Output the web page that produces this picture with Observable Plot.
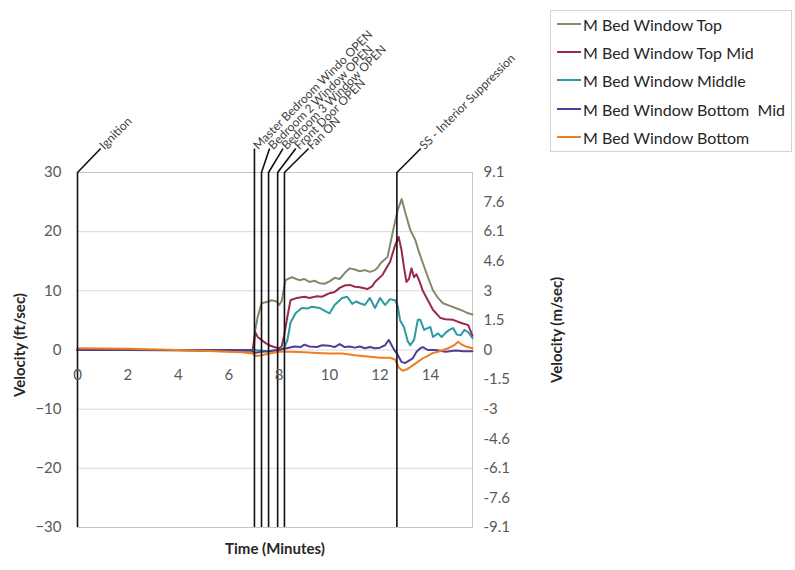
<!DOCTYPE html>
<html>
<head>
<meta charset="utf-8">
<script src="https://cdn.jsdelivr.net/npm/d3@7"></script>
<script src="https://cdn.jsdelivr.net/npm/@observablehq/plot@0.6"></script>
<style>
  html, body { margin: 0; padding: 0; background: #fff; }
  #wrap { position: relative; width: 795px; height: 570px; font-family: Lato, "Open Sans", sans-serif; }
  #legend { position: absolute; left: 550px; top: 10px; width: 242px; height: 142px; border: 1px solid #d4d4d4; box-sizing: border-box; background: #fff; }
  .item { position: absolute; left: 6px; height: 20px; display: flex; align-items: center; font-size: 16px; color: #262626; white-space: pre; }
  .item svg { margin-right: 2px; }
</style>
</head>
<body>
<div id="wrap"><div id="chart"></div><div id="legend"></div></div>
<script>
// ---- data ----
const seriesNames = ["M Bed Window Top", "M Bed Window Top Mid", "M Bed Window Middle", "M Bed Window Bottom  Mid", "M Bed Window Bottom"];
const seriesColors = ["#7f8c6c", "#982a4c", "#2b9ba2", "#503f92", "#ef7d22"];

const bedTop = [[0,0],[2,0],[4,-0.1],[6,-0.2],[6.9,-0.3],[7.0,0.5],[7.05,3.4],[7.15,5.6],[7.3,7.9],[7.5,8.1],[7.7,8.4],[7.9,8.2],[8.0,7.6],[8.1,8.3],[8.25,11.8],[8.5,12.3],[8.8,11.8],[9.0,12.0],[9.2,11.5],[9.4,11.7],[9.6,11.3],[9.8,11.2],[10.0,11.6],[10.2,12.2],[10.4,12.0],[10.6,13.0],[10.8,13.8],[11.0,13.6],[11.2,13.3],[11.4,13.5],[11.6,13.2],[11.8,13.5],[11.9,13.9],[12.05,14.8],[12.3,15.7],[12.55,20.8],[12.7,23.6],[12.86,25.5],[13.0,23.3],[13.2,20.3],[13.4,18.6],[13.55,16.5],[13.7,14.7],[13.9,12.3],[14.1,10.1],[14.3,8.8],[14.5,7.9],[14.75,7.5],[15.0,7.1],[15.25,6.7],[15.5,6.2],[15.67,6.0]];
const bedTopMid = [[0,0],[2,0],[4,0],[6,-0.1],[6.95,0],[7.0,1.5],[7.05,3.0],[7.15,2.2],[7.3,1.7],[7.45,1.2],[7.6,0.8],[7.8,0.5],[8.0,0.3],[8.1,0.6],[8.2,2.5],[8.3,5.0],[8.45,8.4],[8.7,8.8],[9.0,9.0],[9.2,8.8],[9.5,9.1],[9.7,9.0],[10.0,9.6],[10.2,9.8],[10.4,10.5],[10.6,10.9],[10.8,11.0],[11.0,10.7],[11.2,10.6],[11.5,10.3],[11.7,10.8],[11.8,11.5],[12.1,12.7],[12.4,14.9],[12.6,17.7],[12.74,19.1],[12.85,17.0],[12.95,14.0],[13.05,11.5],[13.15,12.0],[13.25,13.8],[13.35,12.3],[13.45,12.8],[13.55,11.8],[13.7,10.0],[13.9,8.4],[14.1,6.8],[14.4,5.4],[14.6,5.2],[14.9,5.1],[15.2,4.6],[15.5,4.2],[15.67,2.4]];
const bedMiddle = [[0,0],[2,0],[4,0],[6,0],[7.0,0],[7.5,-0.2],[8.0,0],[8.2,0.3],[8.33,1.7],[8.45,4.6],[8.65,6.2],[8.9,7.1],[9.1,7.0],[9.3,7.3],[9.6,7.1],[9.9,6.4],[10.0,6.2],[10.2,7.6],[10.5,8.8],[10.7,9.0],[10.9,7.8],[11.05,8.2],[11.2,7.9],[11.4,7.6],[11.6,8.8],[11.8,7.1],[12.0,8.8],[12.2,7.6],[12.4,8.6],[12.6,8.4],[12.7,7.5],[12.8,5.0],[12.95,3.9],[13.1,1.5],[13.2,0.8],[13.35,1.7],[13.5,5.1],[13.6,5.1],[13.75,3.4],[14.0,3.9],[14.1,2.2],[14.3,2.8],[14.45,2.2],[14.6,2.9],[14.75,3.4],[14.9,3.7],[15.05,2.6],[15.2,2.5],[15.35,3.4],[15.5,3.0],[15.67,2.0]];
const bedBottomMid = [[0,0],[2,0],[4,0],[6,0],[6.9,0],[7.0,-0.5],[7.3,-0.3],[7.6,-0.2],[8.0,0],[8.3,0.3],[8.6,0.6],[8.85,0.5],[9.0,0.9],[9.2,0.6],[9.5,0.5],[9.7,0.8],[10.0,0.7],[10.2,0.5],[10.4,1.0],[10.6,0.5],[10.8,0.6],[11.0,0.4],[11.2,0.6],[11.4,0.3],[11.6,0.5],[11.8,0.3],[12.0,0.4],[12.2,0.8],[12.35,1.7],[12.5,0.5],[12.6,-0.2],[12.7,-0.8],[12.85,-2.0],[13.0,-2.2],[13.15,-1.8],[13.3,-1.4],[13.45,-0.3],[13.6,0.3],[13.7,0.5],[13.9,0],[14.2,0],[14.6,-0.3],[15.0,-0.1],[15.3,-0.2],[15.67,-0.2]];
const bedBottom = [[0,0.3],[2,0.2],[4,0],[5.5,-0.2],[6.5,-0.4],[6.95,-0.6],[7.05,-1.0],[7.3,-0.9],[7.6,-0.6],[8.0,-0.3],[8.5,-0.3],[9.0,-0.4],[9.5,-0.5],[10.0,-0.6],[10.5,-0.6],[11.0,-0.9],[11.5,-1.1],[12.0,-1.3],[12.4,-1.3],[12.6,-1.6],[12.75,-3.0],[12.9,-3.5],[13.1,-3.2],[13.3,-2.6],[13.5,-2.0],[13.7,-1.4],[13.9,-1.0],[14.1,-0.5],[14.3,-0.3],[14.5,0],[14.7,0.3],[14.9,0.7],[15.0,1.0],[15.1,1.4],[15.25,0.9],[15.4,0.6],[15.67,0.3]];
const seriesData = [bedTop, bedTopMid, bedMiddle, bedBottomMid, bedBottom];

const eventLabels = ["Ignition", "Master Bedroom Windo OPEN", "Bedroom 2 Window OPEN", "Bedroom 3 Window OPEN", "Front Door OPEN", "Fan ON", "SS - Interior Suppression"];
const eventTimes = [0, 7.02, 7.3, 7.58, 7.94, 8.21, 12.67];
const eventLabelTimes = [0.92, 7.02, 7.62, 8.15, 8.66, 9.17, 13.62];

const xTicks = [0, 2, 4, 6, 8, 10, 12, 14];
const yTicksLeft = [30, 20, 10, 0, -10, -20, -30];
const yTicksRight = [30, 25, 20, 15, 10, 5, 0, -5, -10, -15, -20, -25, -30];
const yLabelsRight = ["9.1", "7.6", "6.1", "4.6", "3", "1.5", "0", "-1.5", "-3", "-4.6", "-6.1", "-7.6", "-9.1"];

// ---- build ----
const rows = [];
seriesData.forEach((s, i) => s.forEach(([t, v]) => rows.push({series: seriesNames[i], t, v})));
const events = eventLabels.map((label, i) => ({label, t: eventTimes[i], lt: eventLabelTimes[i]}));
const yTop = 30, yLeader = 34.05;

const chart = Plot.plot({
  width: 795, height: 570,
  marginLeft: 77, marginRight: 323, marginTop: 172, marginBottom: 43,
  style: {fontFamily: "Lato, 'Open Sans', sans-serif", background: "#fff"},
  x: {domain: [0, 15.67], axis: null},
  y: {domain: [-30, 30], axis: null},
  color: {domain: seriesNames, range: seriesColors},
  marks: [
    Plot.ruleY(yTicksLeft, {stroke: "#d9d9d9", strokeWidth: 1}),
    Plot.frame({stroke: "#c4c4c4"}),
    Plot.line(rows, {x: "t", y: "v", z: "series", stroke: "series", strokeWidth: 2, curve: "linear"}),
    Plot.ruleX(events, {x: "t", y1: -30, y2: yTop, stroke: "#111", strokeWidth: 1.6}),
    Plot.link(events, {x1: "t", y1: yTop, x2: "lt", y2: yLeader, stroke: "#111", strokeWidth: 1.6}),
    Plot.text(events, {x: "lt", y: yLeader, text: "label", rotate: -45, textAnchor: "start", dx: 1, dy: -1, fontSize: 12, fill: "#404040"}),
    Plot.text(xTicks, {x: d => d, y: 0, dy: 25, text: d => String(d), fontSize: 15, fill: "#595959"}),
    Plot.axisY(yTicksLeft, {anchor: "left", tickSize: 0, tickPadding: 16, label: null, fontSize: 15, color: "#595959"}),
    Plot.axisY(yTicksRight, {anchor: "right", tickSize: 0, tickPadding: 11, label: null, fontSize: 15, color: "#595959",
      tickFormat: d => yLabelsRight[yTicksRight.indexOf(d)]}),
    Plot.text(["Velocity (ft/sec)"], {frameAnchor: "left", textAnchor: "middle", dx: -57, dy: -5, rotate: -90, fontSize: 15, fontWeight: "bold", fill: "#262626"}),
    Plot.text(["Velocity (m/sec)"], {frameAnchor: "right", textAnchor: "middle", dx: 85, dy: -20, rotate: -90, fontSize: 15, fontWeight: "bold", fill: "#262626"}),
    Plot.text(["Time (Minutes)"], {frameAnchor: "bottom", textAnchor: "middle", dy: 26, fontSize: 15, fontWeight: "bold", fill: "#262626"})
  ]
});
document.getElementById("chart").appendChild(chart);

// legend
const legend = document.getElementById("legend");
const itemTops = [3, 31, 59, 88, 116];
seriesNames.forEach((name, i) => {
  const d = document.createElement("div");
  d.className = "item";
  d.style.top = itemTops[i] + "px";
  d.innerHTML = `<svg width="24" height="6"><line x1="0" y1="3" x2="24" y2="3" stroke="${seriesColors[i]}" stroke-width="2"/></svg>`;
  const s = document.createElement("span");
  s.textContent = name;
  d.appendChild(s);
  legend.appendChild(d);
});
</script>
</body>
</html>
